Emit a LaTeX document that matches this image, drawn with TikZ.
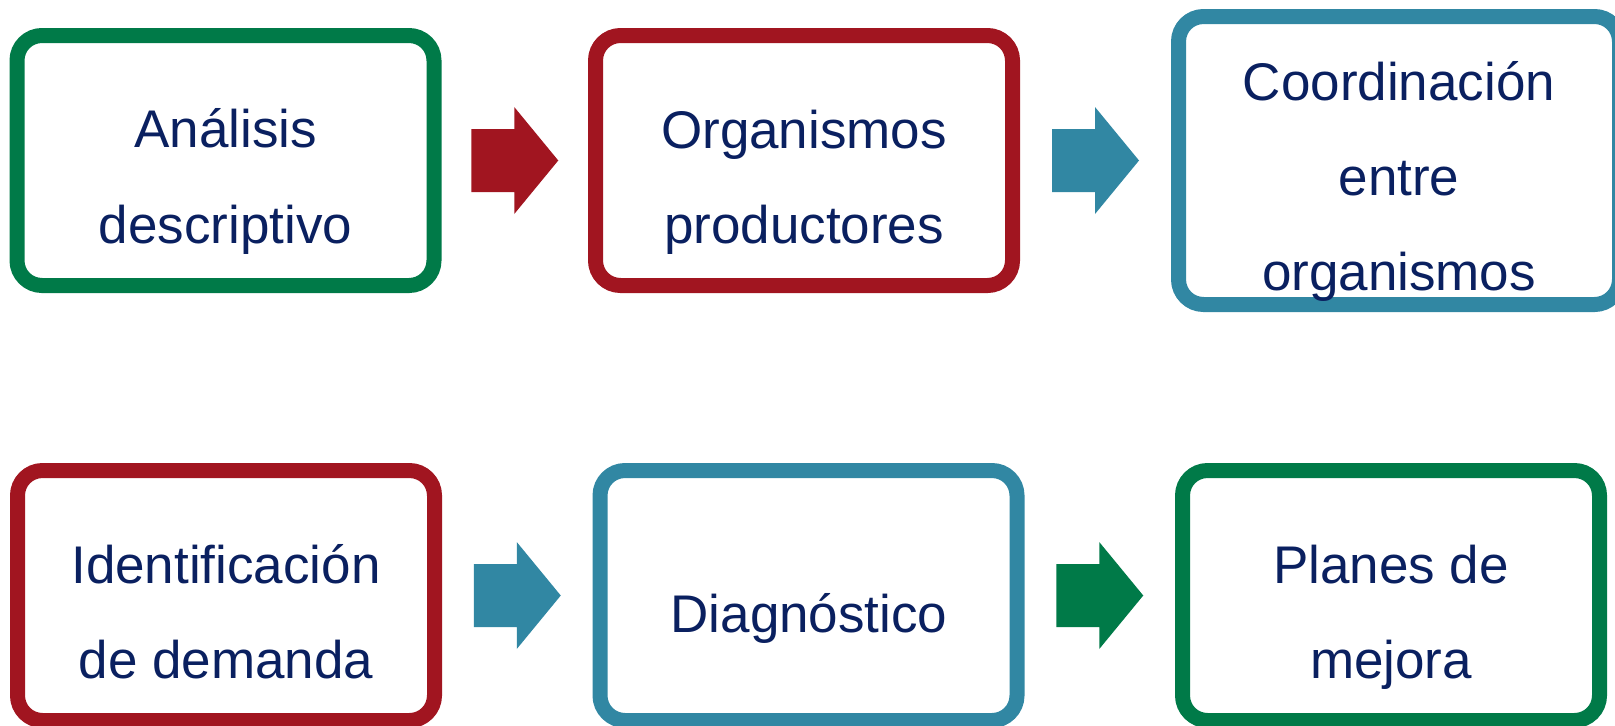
\documentclass[tikz,border=0pt]{standalone}
\usepackage{fontspec}
\setmainfont{Liberation Sans}
\usepackage{tikz}
\usetikzlibrary{calc}
\definecolor{verde}{RGB}{0,122,72}
\definecolor{rojo}{RGB}{161,21,32}
\definecolor{azul}{RGB}{49,135,163}
\definecolor{marino}{RGB}{10,32,96}
\def\flecha[#1](#2){\fill[#1] ($(#2)+(-43.5,-31.5)$) -- ++(43,0) -- ++(0,-22) -- ++(44,53.5) -- ++(-44,53.5) -- ++(0,-22) -- ++(-43,0) -- cycle;}

\begin{document}
\begin{tikzpicture}[x=0.5pt, y=-0.5pt,
		caja/.style={draw, line width=7.5pt, rounded corners=12.5pt, minimum width=208.5pt, minimum height=125pt, inner sep=0pt},
		texto/.style={anchor=base, inner sep=0pt, text=marino, font=\fontsize{26.5pt}{30pt}\selectfont}]
			%%%%% START %%%%%
			
			\useasboundingbox (0, 0) rectangle (1615, 725);
			\clip (0, 0) rectangle (1615, 725);
			
			% cajas
			\node[caja, draw=verde] (analisis) at (225.5, 160.5) {};
			\node[caja, draw=rojo] (organismos) at (804, 160.5) {};
			\node[caja, draw=azul, minimum width=220.5pt, minimum height=144pt] (coordinacion) at (1399, 160.5) {};
			
			\node[caja, draw=rojo] (demanda) at (226, 595.5) {};
			\node[caja, draw=azul] (diagnostico) at (808.5, 595.5) {};
			\node[caja, draw=verde] (planes) at (1391, 595.5) {};
			
			% flechas
			\coordinate (f1) at ($(analisis.east)!0.5!(organismos.west)$);
			\coordinate (f2) at ($(organismos.east)!0.5!(coordinacion.west)$);
			\coordinate (f3) at ($(demanda.east)!0.5!(diagnostico.west)$);
			\coordinate (f4) at ($(diagnostico.east)!0.5!(planes.west)$);
			\flecha[rojo](f1);
			\flecha[azul](f2);
			\flecha[azul](f3);
			\flecha[verde](f4);
			
			% textos
			\node[texto] (analisis-1) at (225.5, 147) {Análisis};
			\node[texto] (analisis-2) at (225.5, 243) {descriptivo};
			
			\node[texto] (organismos-1) at (804, 148) {Organismos};
			\node[texto] (organismos-2) at (804, 243) {productores};
			
			\node[texto] (coordinacion-1) at (1399, 100) {Coordinación};
			\node[texto] (coordinacion-2) at (1399, 195) {entre};
			\node[texto] (coordinacion-3) at (1399, 290) {organismos};
			
			\node[texto] (demanda-1) at (226, 583) {Identificación};
			\node[texto] (demanda-2) at (226, 678) {de demanda};
			
			\node[texto] (diagnostico-1) at (809, 632) {Diagnóstico};
			
			\node[texto] (planes-1) at (1391, 583) {Planes de};
			\node[texto] (planes-2) at (1391, 678) {mejora};
			
			%%%%% END %%%%%
		\end{tikzpicture}
\end{document}
